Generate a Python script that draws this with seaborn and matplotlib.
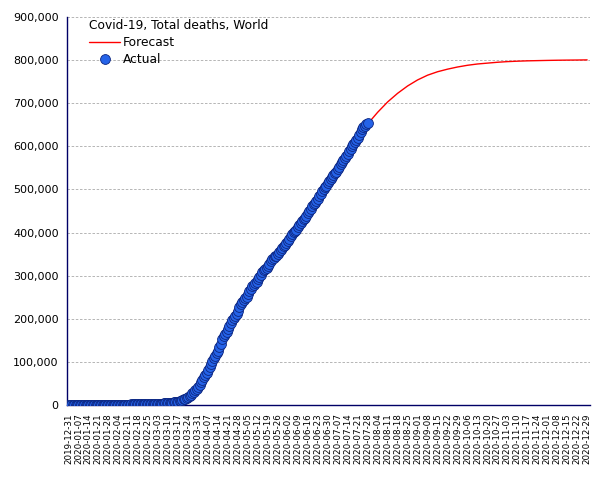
import numpy as np
import pandas as pd
import matplotlib
matplotlib.use('Agg')
import matplotlib.pyplot as plt
import seaborn as sns
from matplotlib.ticker import FuncFormatter

# Actual cumulative deaths, daily from 2019-12-31 to 2020-07-28
actual_start = '2019-12-31'
actual_deaths = (
    [0]
    # January
    + [0, 0, 0, 0, 0, 0, 0, 0, 0, 0, 1, 1, 1, 1, 1, 2, 2, 3, 3, 6,
       9, 17, 18, 26, 42, 56, 82, 106, 132, 170, 213]
    # February
    + [259, 304, 362, 426, 492, 565, 638, 724, 813, 910, 1018, 1115, 1261,
       1383, 1526, 1669, 1775, 1873, 2009, 2126, 2247, 2251, 2458, 2469,
       2629, 2708, 2770, 2814, 2872]
    # March
    + [2941, 3013, 3112, 3205, 3310, 3410, 3558, 3803, 3988, 4262, 4615,
       4720, 5404, 5819, 6440, 7126, 7905, 8733, 9867, 11299, 12973, 14651,
       16505, 18625, 21181, 24080, 27370, 30857, 33925, 37582, 42107]
    # April
    + [46809, 52983, 58787, 64606, 69374, 74565, 81865, 88338, 95455,
       102525, 108503, 114091, 119482, 125983, 134176, 141889, 153822,
       159510, 165044, 169986, 176583, 183066, 190858, 197162, 202846,
       206544, 211167, 217153, 227638, 233388]
    # May
    + [238650, 243808, 247470, 251537, 257239, 263831, 269567, 274898,
       279311, 283153, 286330, 291942, 297220, 302418, 307666, 312009,
       315185, 318481, 323286, 328115, 332924, 338160, 342097, 345059,
       346232, 350453, 355629, 360308, 365166, 369126, 372035]
    # June
    + [375555, 380249, 385947, 391220, 396618, 400857, 403627, 407067,
       411781, 416584, 421458, 426334, 430660, 434181, 437591, 444510,
       450057, 455278, 461566, 465848, 469582, 473474, 478850, 484077,
       490560, 496947, 501349, 504907, 508533, 514055]
    # July
    + [519227, 524261, 529414, 534186, 537502, 541160, 547075, 553057,
       558393, 564208, 569235, 573056, 576650, 582290, 588146, 593800,
       600934, 606128, 610254, 614286, 620318, 627349, 634208, 640164,
       645016, 648220, 651500, 655000]
)

# Forecast, weekly from 2019-12-31 to 2020-12-29
forecast_deaths = [
    0, 0, 0, 100, 200, 500, 1000, 1800, 2700, 3500, 5000, 9000, 20000,
    42000, 85000, 138000, 192000, 234000, 263000, 291000, 318000, 345000,
    375000, 410000, 442000, 476000, 510000, 542000, 575000, 612000, 652000,
    679000, 703000, 723000, 740000, 754000, 765000, 773000, 779000, 784000,
    788000, 791000, 793000, 795000, 796500, 797500, 798300, 798800, 799300,
    799700, 800000, 800200, 800500,
]

title = 'Covid-19, Total deaths, World'

start = pd.Timestamp(actual_start)
actual_df = pd.DataFrame({
    'day': np.arange(len(actual_deaths)),
    'deaths': actual_deaths,
})
forecast_df = pd.DataFrame({
    'day': np.arange(len(forecast_deaths)) * 7,
    'deaths': forecast_deaths,
})
tick_days = np.arange(0, 365, 7)
tick_labels = [(start + pd.Timedelta(days=int(d))).strftime('%Y-%m-%d') for d in tick_days]

sns.set_style('white')
plt.rcParams['font.family'] = ['DejaVu Sans']

fig = plt.figure(figsize=(6.05, 4.8), dpi=100)
ax = fig.add_axes([67 / 605, 75 / 480, 523 / 605, 388 / 480])

sns.lineplot(data=forecast_df, x='day', y='deaths', ax=ax, color='#ff0000',
             linewidth=1.0, label='Forecast', zorder=2)
sns.scatterplot(data=actual_df, x='day', y='deaths', ax=ax, color='#2563e8',
                edgecolor='#0d2680', linewidth=0.6, s=50, label='Actual', zorder=3)

ax.set_xlim(-1, 366)
ax.set_ylim(0, 900000)
ax.set_yticks(np.arange(0, 900001, 100000))
ax.yaxis.set_major_formatter(FuncFormatter(lambda v, p: f'{int(v):,}'))
ax.set_xticks(tick_days)
ax.set_xticklabels(tick_labels, rotation=90, fontsize=6.3)
ax.tick_params(axis='y', labelsize=8, length=4, color='#000066', pad=2, labelcolor='black')
ax.tick_params(axis='x', length=4, color='#000066', pad=2, labelcolor='black')
ax.set_xlabel('')
ax.set_ylabel('')

ax.yaxis.grid(True, linestyle=(0, (3, 2)), color='#aaaaaa', linewidth=0.6)
ax.xaxis.grid(False)
ax.set_axisbelow(True)
for side in ['top', 'right']:
    ax.spines[side].set_visible(False)
for side in ['left', 'bottom']:
    ax.spines[side].set_color('#000066')
    ax.spines[side].set_linewidth(1.0)

leg = ax.legend(title=title, loc='upper left', bbox_to_anchor=(0.025, 1.016),
                frameon=False, fontsize=8.8, title_fontsize=8.8,
                alignment='left', handlelength=2.6, handletextpad=0.2,
                labelspacing=0.3, borderpad=0.2)
leg.get_title().set_color('black')
for t in leg.get_texts():
    t.set_color('black')

fig.savefig('out.png', dpi=100)
